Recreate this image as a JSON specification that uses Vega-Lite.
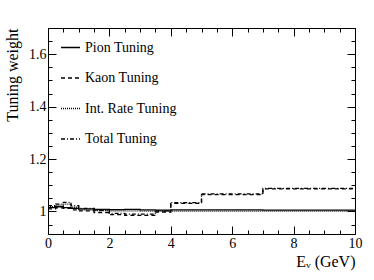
{
  "$schema": "https://vega.github.io/schema/vega-lite/v6.json",
  "width": 307,
  "height": 206,
  "autosize": {"type": "none"},
  "padding": {"left": 48, "top": 28, "right": 19, "bottom": 46},
  "background": "white",
  "config": {
    "font": "Liberation Serif",
    "view": {"stroke": "black", "strokeWidth": 1},
    "axis": {"grid": false, "domainColor": "black", "tickColor": "black", "labelColor": "black", "titleColor": "black", "labelFont": "Liberation Serif", "titleFont": "Liberation Serif", "labelFontSize": 14, "titleFontSize": 16, "titleFontWeight": "normal"}
  },
  "data": {"values": [
    {"x": 0, "y": 1.015, "s": "Pion Tuning"}, {"x": 0.25, "y": 1.018, "s": "Pion Tuning"}, {"x": 0.5, "y": 1.015, "s": "Pion Tuning"}, {"x": 0.75, "y": 1.012, "s": "Pion Tuning"}, {"x": 1, "y": 1.010, "s": "Pion Tuning"}, {"x": 1.5, "y": 1.008, "s": "Pion Tuning"}, {"x": 2, "y": 1.007, "s": "Pion Tuning"}, {"x": 2.5, "y": 1.008, "s": "Pion Tuning"}, {"x": 3, "y": 1.006, "s": "Pion Tuning"}, {"x": 3.5, "y": 1.005, "s": "Pion Tuning"}, {"x": 4, "y": 1.006, "s": "Pion Tuning"}, {"x": 5, "y": 1.006, "s": "Pion Tuning"}, {"x": 7, "y": 1.005, "s": "Pion Tuning"}, {"x": 10, "y": 1.005, "s": "Pion Tuning"},
    {"x": 0, "y": 1.010, "s": "Kaon Tuning"}, {"x": 0.25, "y": 1.014, "s": "Kaon Tuning"}, {"x": 0.5, "y": 1.012, "s": "Kaon Tuning"}, {"x": 0.75, "y": 1.006, "s": "Kaon Tuning"}, {"x": 1, "y": 1.002, "s": "Kaon Tuning"}, {"x": 1.5, "y": 0.996, "s": "Kaon Tuning"}, {"x": 2, "y": 0.988, "s": "Kaon Tuning"}, {"x": 2.5, "y": 0.985, "s": "Kaon Tuning"}, {"x": 3, "y": 0.985, "s": "Kaon Tuning"}, {"x": 3.5, "y": 0.998, "s": "Kaon Tuning"}, {"x": 4, "y": 1.031, "s": "Kaon Tuning"}, {"x": 5, "y": 1.064, "s": "Kaon Tuning"}, {"x": 7, "y": 1.086, "s": "Kaon Tuning"}, {"x": 10, "y": 1.086, "s": "Kaon Tuning"},
    {"x": 0, "y": 1.018, "s": "Int. Rate Tuning"}, {"x": 0.25, "y": 1.024, "s": "Int. Rate Tuning"}, {"x": 0.5, "y": 1.028, "s": "Int. Rate Tuning"}, {"x": 0.75, "y": 1.016, "s": "Int. Rate Tuning"}, {"x": 1, "y": 1.006, "s": "Int. Rate Tuning"}, {"x": 1.5, "y": 1.003, "s": "Int. Rate Tuning"}, {"x": 2, "y": 1.002, "s": "Int. Rate Tuning"}, {"x": 2.5, "y": 1.002, "s": "Int. Rate Tuning"}, {"x": 3, "y": 1.001, "s": "Int. Rate Tuning"}, {"x": 3.5, "y": 1.001, "s": "Int. Rate Tuning"}, {"x": 4, "y": 1.001, "s": "Int. Rate Tuning"}, {"x": 5, "y": 1.001, "s": "Int. Rate Tuning"}, {"x": 7, "y": 1.001, "s": "Int. Rate Tuning"}, {"x": 10, "y": 1.001, "s": "Int. Rate Tuning"},
    {"x": 0, "y": 1.022, "s": "Total Tuning"}, {"x": 0.25, "y": 1.028, "s": "Total Tuning"}, {"x": 0.5, "y": 1.035, "s": "Total Tuning"}, {"x": 0.75, "y": 1.022, "s": "Total Tuning"}, {"x": 1, "y": 1.012, "s": "Total Tuning"}, {"x": 1.5, "y": 1.004, "s": "Total Tuning"}, {"x": 2, "y": 0.993, "s": "Total Tuning"}, {"x": 2.5, "y": 0.990, "s": "Total Tuning"}, {"x": 3, "y": 0.990, "s": "Total Tuning"}, {"x": 3.5, "y": 1.002, "s": "Total Tuning"}, {"x": 4, "y": 1.034, "s": "Total Tuning"}, {"x": 5, "y": 1.067, "s": "Total Tuning"}, {"x": 7, "y": 1.088, "s": "Total Tuning"}, {"x": 10, "y": 1.088, "s": "Total Tuning"}
  ]},
  "resolve": {"axis": {"x": "independent", "y": "independent"}},
  "layer": [
    {
      "mark": {"type": "line", "interpolate": "step-after", "color": "black", "strokeWidth": 1.3},
      "encoding": {
        "x": {"field": "x", "type": "quantitative", "scale": {"domain": [0, 10], "nice": false, "zero": false},
          "axis": {"orient": "bottom", "values": [0, 2, 4, 6, 8, 10], "tickSize": -8, "labelPadding": 10, "domain": false, "title": "Eᵥ (GeV)", "titleAnchor": "end", "titlePadding": 3, "labelFlush": false}},
        "y": {"field": "y", "type": "quantitative", "scale": {"domain": [0.914, 1.7], "nice": false, "zero": false},
          "axis": {"orient": "left", "values": [1, 1.2, 1.4, 1.6], "tickSize": -8, "labelPadding": 10, "domain": false, "title": "Tuning weight", "titleAnchor": "end", "titlePadding": 8, "format": "~g"}},
        "strokeDash": {"field": "s", "type": "nominal",
          "scale": {"domain": ["Pion Tuning", "Kaon Tuning", "Int. Rate Tuning", "Total Tuning"], "range": [[1, 0], [4, 3], [1, 1], [4, 2, 1, 2]]},
          "legend": {"title": null, "orient": "none", "legendX": 12, "legendY": 9, "symbolType": "stroke", "symbolSize": 361, "symbolStrokeColor": "black", "symbolStrokeWidth": 1.3, "labelFont": "Liberation Serif", "labelFontSize": 14, "labelColor": "black", "rowPadding": 12.5, "labelOffset": 4, "padding": 0}}
      }
    },
    {
      "mark": {"type": "point", "opacity": 0},
      "encoding": {
        "x": {"field": "x", "type": "quantitative", "axis": {"orient": "bottom", "values": [0.5,1,1.5,2.5,3,3.5,4.5,5,5.5,6.5,7,7.5,8.5,9,9.5], "tickSize": -4, "labels": false, "domain": false, "title": null}},
        "y": {"field": "y", "type": "quantitative", "axis": {"orient": "left", "values": [0.95,1.05,1.1,1.15,1.25,1.3,1.35,1.45,1.5,1.55,1.65,1.7], "tickSize": -4, "labels": false, "domain": false, "title": null}}
      }
    },
    {
      "mark": {"type": "point", "opacity": 0},
      "encoding": {
        "x": {"field": "x", "type": "quantitative", "axis": {"orient": "top", "values": [0, 2, 4, 6, 8, 10], "tickSize": -8, "labels": false, "domain": false, "title": null}},
        "y": {"field": "y", "type": "quantitative", "axis": {"orient": "right", "values": [1, 1.2, 1.4, 1.6], "tickSize": -8, "labels": false, "domain": false, "title": null}}
      }
    },
    {
      "mark": {"type": "point", "opacity": 0},
      "encoding": {
        "x": {"field": "x", "type": "quantitative", "axis": {"orient": "top", "values": [0.5,1,1.5,2.5,3,3.5,4.5,5,5.5,6.5,7,7.5,8.5,9,9.5], "tickSize": -4, "labels": false, "domain": false, "title": null}},
        "y": {"field": "y", "type": "quantitative", "axis": {"orient": "right", "values": [0.95,1.05,1.1,1.15,1.25,1.3,1.35,1.45,1.5,1.55,1.65,1.7], "tickSize": -4, "labels": false, "domain": false, "title": null}}
      }
    }
  ]
}
